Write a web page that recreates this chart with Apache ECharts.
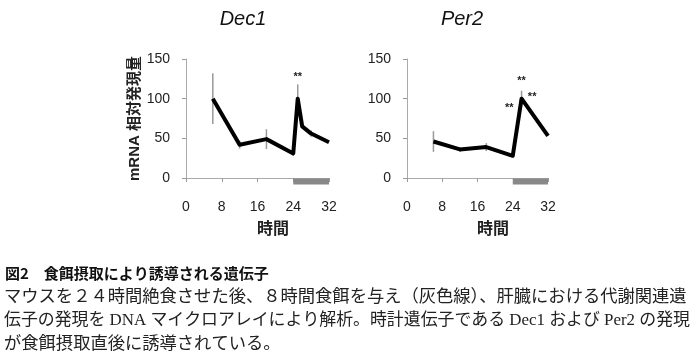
<!DOCTYPE html>
<html>
<head>
<meta charset="utf-8">
<script src="https://cdn.jsdelivr.net/npm/echarts@6/dist/echarts.min.js"></script>
<style>html,body{margin:0;padding:0;background:#fff}#c{width:700px;height:362px}</style>
</head>
<body>
<div id="c"></div>
<script>
// ---- data ----
const dec1Hours = [6, 12, 18, 24, 25, 26, 28, 32];
const dec1Values = [100, 42, 49, 31, 100, 65, 56, 45];
const dec1Err = [32, 5, 12.5, 3, 18, 0, 4, 0];
const per2Hours = [6, 12, 18, 24, 26, 32];
const per2Values = [46, 36, 39, 28, 100, 53];
const per2Err = [13, 3, 5, 2, 10, 0];
const feedingPeriod = [24, 32];
const feedingLevel = -4.3;
const dec1Stars = [[25, 127]];
const per2Stars = [[26, 122], [23.2, 88], [28.4, 102]];
const panelTitles = ['Dec1', 'Per2'];
const yAxisName = 'mRNA 相対発現量';
const xAxisName = '時間';
const captionTitle = '図2　食餌摂取により誘導される遺伝子';
const captionLines = [
  'マウスを２４時間絶食させた後、８時間食餌を与え（灰色線）、肝臓における代謝関連遺',
  '伝子の発現を DNA マイクロアレイにより解析。時計遺伝子である Dec1 および Per2 の発現',
  'が食餌摂取直後に誘導されている。'
];

const latin = "'Liberation Sans', Arial, sans-serif";
const cjk = "'Liberation Sans', 'Noto Sans CJK JP', sans-serif";

function zip(xs, ys) { return xs.map((x, i) => [x, ys[i]]); }
function zip3(xs, ys, es) { return xs.map((x, i) => [x, ys[i], es[i]]); }

function xAxisCfg(idx) {
  return {
    gridIndex: idx, type: 'value', min: 0, max: 32, interval: 8,
    axisLine: { show: true, onZero: false, lineStyle: { color: '#aaa', width: 1 } },
    axisTick: { show: true, length: 4, lineStyle: { color: '#999' } },
    splitLine: { show: false },
    axisLabel: { margin: 22, fontSize: 14, color: '#222', fontFamily: latin },
    name: xAxisName, nameLocation: 'middle', nameGap: 44,
    nameTextStyle: { fontSize: 16, fontWeight: 'bold', color: '#222', fontFamily: cjk, padding: [0, 0, 0, 31] }
  };
}
function yAxisCfg(idx, withName) {
  const cfg = {
    gridIndex: idx, type: 'value', min: 0, max: 150, interval: 50,
    axisLine: { show: true, lineStyle: { color: '#aaa', width: 1 } },
    axisTick: { show: true, length: 4, lineStyle: { color: '#999' } },
    splitLine: { show: false },
    axisLabel: { margin: 16, fontSize: 14, color: '#222', fontFamily: latin }
  };
  if (withName) {
    cfg.name = yAxisName;
    cfg.nameLocation = 'middle';
    cfg.nameRotate = 90;
    cfg.nameGap = 38;
    cfg.nameTextStyle = { fontSize: 15, fontWeight: 'bold', color: '#222', fontFamily: cjk, padding: [0, 0, 6, 0] };
  }
  return cfg;
}

function errSeries(idx, data) {
  return {
    type: 'custom', xAxisIndex: idx, yAxisIndex: idx, z: 1, clip: false,
    data: data,
    renderItem: function (params, api) {
      const x = api.value(0), y = api.value(1), e = api.value(2);
      if (!e) return null;
      const t = api.coord([x, y + e]), b = api.coord([x, y - e]);
      return { type: 'line', shape: { x1: t[0], y1: t[1], x2: b[0], y2: b[1] }, style: { stroke: '#999', lineWidth: 1.5 } };
    }
  };
}
function starSeries(idx, data) {
  return {
    type: 'custom', xAxisIndex: idx, yAxisIndex: idx, z: 5, clip: false,
    data: data,
    renderItem: function (params, api) {
      const p = api.coord([api.value(0), api.value(1)]);
      return { type: 'text', x: p[0], y: p[1], style: { text: '**', fontSize: 11, fontWeight: 'bold', fill: '#222', align: 'center', verticalAlign: 'middle', fontFamily: latin } };
    }
  };
}
function lineSeries(idx, data) {
  return {
    type: 'line', xAxisIndex: idx, yAxisIndex: idx, z: 3, data: data,
    symbol: 'none', animation: false,
    lineStyle: { color: '#000', width: 4, join: 'round' }
  };
}
function feedSeries(idx) {
  return {
    type: 'line', xAxisIndex: idx, yAxisIndex: idx, z: 4, clip: false, symbol: 'none',
    data: feedingPeriod.map(h => [h, feedingLevel]),
    lineStyle: { color: '#888', width: 6, cap: 'butt' }
  };
}

const chart = echarts.init(document.getElementById('c'), null, { renderer: 'canvas' });
const graphics = [
  { type: 'text', x: 243, y: 19, style: { text: panelTitles[0], fontSize: 20, fontStyle: 'italic', fill: '#111', align: 'center', verticalAlign: 'middle', fontFamily: latin } },
  { type: 'text', x: 462, y: 19, style: { text: panelTitles[1], fontSize: 20, fontStyle: 'italic', fill: '#111', align: 'center', verticalAlign: 'middle', fontFamily: latin } },
  { type: 'text', x: 5, y: 273, style: { text: captionTitle, fontSize: 15, fontWeight: 'bold', fill: '#111', verticalAlign: 'middle', fontFamily: "'Noto Sans CJK JP', sans-serif" } }
];
const lineY = [297, 321, 344];
const lineSize = [17.3, 16.9, 17.3];
captionLines.forEach((t, i) => graphics.push({
  type: 'text', x: 4, y: lineY[i],
  style: { text: t, fontSize: lineSize[i], fill: '#222', verticalAlign: 'middle', fontFamily: "'Liberation Serif', 'Noto Sans CJK JP', serif" }
}));

chart.setOption({
  animation: false,
  backgroundColor: '#fff',
  grid: [
    { left: 186, top: 59, width: 143, height: 119 },
    { left: 407, top: 59, width: 141, height: 119 }
  ],
  xAxis: [xAxisCfg(0), xAxisCfg(1)],
  yAxis: [yAxisCfg(0, true), yAxisCfg(1, false)],
  series: [
    errSeries(0, zip3(dec1Hours, dec1Values, dec1Err)),
    lineSeries(0, zip(dec1Hours, dec1Values)),
    feedSeries(0),
    starSeries(0, dec1Stars),
    errSeries(1, zip3(per2Hours, per2Values, per2Err)),
    lineSeries(1, zip(per2Hours, per2Values)),
    feedSeries(1),
    starSeries(1, per2Stars)
  ],
  graphic: graphics
});
</script>
</body>
</html>
